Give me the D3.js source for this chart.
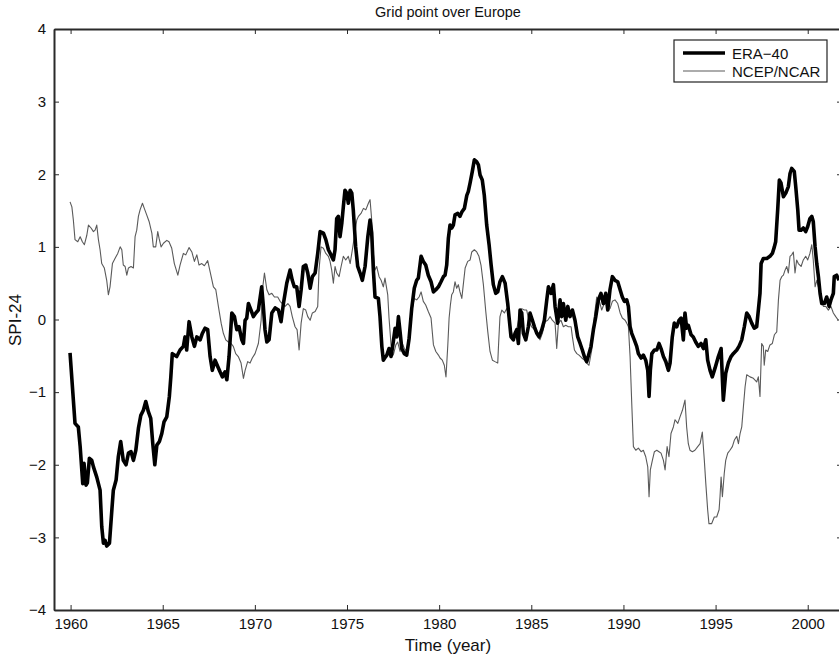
<!DOCTYPE html>
<html><head><meta charset="utf-8">
<script src="https://cdn.jsdelivr.net/npm/d3@7"></script>
<style>html,body{margin:0;padding:0;background:#fff;overflow:hidden}</style>
</head><body><svg id="c" width="839" height="656"></svg>
<script>
const xTicks = [1960,1965,1970,1975,1980,1985,1990,1995,2000];
const yTicks = [-4,-3,-2,-1,0,1,2,3,4];

const eraYears = [1959.97,1960.24,1960.42,1960.52,1960.66,1960.73,1960.84,1960.91,1961.02,1961.15,1961.24,1961.42,1961.60,1961.69,1961.78,1961.87,1961.96,1962.11,1962.24,1962.32,1962.47,1962.59,1962.72,1962.86,1963.01,1963.14,1963.28,1963.41,1963.54,1963.68,1963.81,1963.95,1964.08,1964.22,1964.35,1964.46,1964.57,1964.68,1964.82,1964.95,1965.07,1965.22,1965.36,1965.44,1965.52,1965.76,1965.94,1966.12,1966.21,1966.30,1966.43,1966.58,1966.72,1966.85,1967.03,1967.15,1967.30,1967.44,1967.57,1967.69,1967.84,1967.99,1968.11,1968.24,1968.38,1968.48,1968.60,1968.75,1968.89,1969.02,1969.14,1969.29,1969.38,1969.47,1969.56,1969.65,1969.79,1969.92,1970.05,1970.19,1970.37,1970.46,1970.55,1970.65,1970.77,1970.92,1971.10,1971.28,1971.42,1971.55,1971.73,1971.91,1972.03,1972.14,1972.27,1972.40,1972.51,1972.63,1972.76,1972.87,1973.00,1973.12,1973.27,1973.41,1973.54,1973.72,1973.85,1973.99,1974.13,1974.26,1974.35,1974.44,1974.53,1974.62,1974.72,1974.80,1974.89,1974.99,1975.07,1975.17,1975.26,1975.34,1975.47,1975.58,1975.71,1975.83,1975.98,1976.13,1976.25,1976.34,1976.43,1976.52,1976.70,1976.79,1976.89,1976.97,1977.10,1977.16,1977.28,1977.39,1977.51,1977.61,1977.70,1977.79,1977.88,1977.97,1978.11,1978.24,1978.37,1978.51,1978.65,1978.78,1978.87,1979.02,1979.14,1979.27,1979.41,1979.56,1979.69,1979.82,1979.96,1980.10,1980.23,1980.32,1980.41,1980.50,1980.59,1980.68,1980.77,1980.86,1981.01,1981.13,1981.23,1981.37,1981.50,1981.58,1981.68,1981.80,1981.91,1982.04,1982.13,1982.22,1982.34,1982.45,1982.58,1982.71,1982.82,1982.94,1983.07,1983.18,1983.30,1983.43,1983.58,1983.72,1983.79,1983.90,1984.03,1984.12,1984.21,1984.30,1984.39,1984.48,1984.57,1984.70,1984.84,1984.93,1985.06,1985.17,1985.30,1985.42,1985.57,1985.71,1985.84,1985.93,1986.07,1986.20,1986.29,1986.43,1986.56,1986.65,1986.74,1986.87,1986.98,1987.10,1987.23,1987.37,1987.52,1987.65,1987.77,1987.88,1988.01,1988.13,1988.24,1988.37,1988.50,1988.64,1988.78,1988.91,1989.04,1989.15,1989.27,1989.40,1989.54,1989.69,1989.82,1989.94,1990.05,1990.18,1990.27,1990.36,1990.45,1990.59,1990.72,1990.81,1990.96,1991.08,1991.21,1991.32,1991.39,1991.46,1991.54,1991.68,1991.81,1991.93,1992.04,1992.17,1992.30,1992.44,1992.53,1992.65,1992.76,1992.89,1993.02,1993.13,1993.25,1993.34,1993.43,1993.52,1993.67,1993.79,1993.92,1994.06,1994.21,1994.34,1994.47,1994.57,1994.70,1994.82,1994.97,1995.15,1995.30,1995.42,1995.55,1995.69,1995.84,1995.96,1996.15,1996.27,1996.42,1996.56,1996.69,1996.82,1996.96,1997.10,1997.23,1997.32,1997.41,1997.47,1997.59,1997.78,1997.95,1998.08,1998.19,1998.26,1998.37,1998.46,1998.55,1998.68,1998.81,1998.95,1999.04,1999.13,1999.27,1999.35,1999.46,1999.53,1999.64,1999.76,1999.89,2000.00,2000.12,2000.22,2000.30,2000.40,2000.49,2000.58,2000.67,2000.76,2000.90,2001.03,2001.16,2001.26,2001.39,2001.44,2001.57,2001.70];
const eraValues = [-0.46,-1.43,-1.48,-1.75,-2.26,-1.98,-2.28,-2.25,-1.91,-1.94,-2.03,-2.17,-2.35,-2.85,-3.08,-3.04,-3.12,-3.08,-2.62,-2.35,-2.21,-1.89,-1.68,-1.94,-2.00,-1.84,-1.82,-1.94,-1.80,-1.50,-1.32,-1.25,-1.13,-1.27,-1.36,-1.71,-2.00,-1.73,-1.68,-1.57,-1.41,-1.34,-1.06,-0.79,-0.47,-0.51,-0.42,-0.37,-0.24,-0.42,-0.03,-0.24,-0.37,-0.24,-0.28,-0.19,-0.12,-0.14,-0.51,-0.70,-0.56,-0.65,-0.72,-0.79,-0.72,-0.83,-0.51,0.09,0.04,-0.14,-0.10,-0.28,-0.33,-0.01,0.02,0.22,0.13,0.04,0.09,0.13,0.45,0.18,-0.14,-0.31,-0.28,0.09,0.16,0.13,-0.03,0.22,0.50,0.68,0.54,0.45,0.45,0.18,0.41,0.73,0.75,0.64,0.43,0.59,0.64,0.91,1.21,1.19,1.10,0.96,0.89,0.82,0.96,1.39,1.42,1.14,1.33,1.55,1.78,1.74,1.60,1.78,1.74,1.51,1.00,0.73,0.64,0.54,0.73,1.14,1.37,1.19,0.68,0.31,0.29,0.04,-0.37,-0.56,-0.51,-0.49,-0.40,-0.51,-0.31,-0.12,-0.24,0.04,-0.17,-0.40,-0.47,-0.49,-0.26,0.15,0.43,0.54,0.57,0.87,0.80,0.75,0.61,0.52,0.38,0.41,0.45,0.52,0.59,0.61,0.75,1.12,1.30,1.26,1.30,1.44,1.46,1.42,1.48,1.53,1.71,1.76,1.88,2.04,2.20,2.17,2.13,1.99,1.92,1.71,1.30,1.03,0.75,0.48,0.36,0.38,0.52,0.59,0.50,0.22,0.04,-0.24,-0.28,-0.19,-0.14,-0.33,0.13,0.09,-0.19,-0.28,-0.10,0.09,-0.01,-0.10,-0.19,-0.24,-0.14,-0.01,0.27,0.45,0.36,0.48,0.18,-0.05,0.27,0.04,0.22,-0.01,0.18,0.04,0.13,-0.01,-0.24,-0.33,-0.42,-0.51,-0.58,-0.47,-0.37,-0.14,0.04,0.27,0.36,0.22,0.36,0.13,0.41,0.59,0.54,0.52,0.41,0.31,0.25,0.27,0.18,-0.10,-0.19,-0.28,-0.37,-0.47,-0.53,-0.49,-0.56,-0.70,-1.06,-0.70,-0.47,-0.42,-0.42,-0.33,-0.40,-0.51,-0.58,-0.70,-0.60,-0.24,-0.05,-0.10,-0.01,0.02,-0.28,0.09,-0.12,-0.08,-0.21,-0.24,-0.31,-0.37,-0.33,-0.40,-0.28,-0.56,-0.70,-0.79,-0.67,-0.51,-0.40,-1.11,-0.74,-0.60,-0.51,-0.47,-0.42,-0.37,-0.28,-0.10,0.09,0.04,-0.05,-0.12,-0.10,0.13,0.36,0.77,0.84,0.84,0.87,0.91,1.00,1.07,1.51,1.92,1.88,1.69,1.74,1.83,2.01,2.08,2.04,1.83,1.51,1.23,1.23,1.26,1.21,1.28,1.39,1.42,1.35,1.00,0.77,0.59,0.36,0.22,0.22,0.31,0.18,0.27,0.36,0.59,0.61,0.54];

const ncepYears = [1959.97,1960.07,1960.15,1960.24,1960.39,1960.52,1960.64,1960.75,1960.88,1960.97,1961.11,1961.24,1961.33,1961.42,1961.51,1961.60,1961.69,1961.83,1961.96,1962.05,1962.14,1962.27,1962.41,1962.56,1962.69,1962.78,1962.86,1962.96,1963.05,1963.14,1963.28,1963.41,1963.50,1963.59,1963.68,1963.77,1963.90,1964.00,1964.13,1964.26,1964.41,1964.49,1964.62,1964.73,1964.80,1964.91,1965.04,1965.22,1965.34,1965.49,1965.63,1965.82,1965.94,1966.12,1966.25,1966.43,1966.58,1966.72,1966.85,1966.97,1967.12,1967.26,1967.44,1967.57,1967.75,1967.88,1968.02,1968.17,1968.29,1968.42,1968.56,1968.71,1968.83,1968.96,1969.10,1969.25,1969.38,1969.47,1969.61,1969.74,1969.86,1970.01,1970.19,1970.34,1970.41,1970.52,1970.65,1970.77,1970.92,1971.06,1971.24,1971.37,1971.49,1971.64,1971.79,1971.91,1972.03,1972.18,1972.29,1972.40,1972.51,1972.63,1972.76,1972.87,1973.00,1973.12,1973.27,1973.41,1973.48,1973.59,1973.72,1973.85,1973.99,1974.08,1974.17,1974.26,1974.35,1974.44,1974.57,1974.68,1974.80,1974.93,1975.07,1975.17,1975.29,1975.40,1975.53,1975.62,1975.76,1975.89,1976.02,1976.16,1976.25,1976.34,1976.43,1976.52,1976.61,1976.74,1976.85,1976.97,1977.06,1977.21,1977.28,1977.39,1977.51,1977.65,1977.75,1977.88,1977.97,1978.11,1978.24,1978.37,1978.51,1978.65,1978.78,1978.91,1979.02,1979.14,1979.27,1979.41,1979.56,1979.69,1979.82,1979.96,1980.05,1980.17,1980.28,1980.37,1980.47,1980.54,1980.61,1980.68,1980.77,1980.86,1980.95,1981.04,1981.13,1981.23,1981.31,1981.41,1981.55,1981.68,1981.77,1981.91,1982.04,1982.16,1982.27,1982.40,1982.53,1982.64,1982.76,1982.89,1983.03,1983.18,1983.21,1983.30,1983.40,1983.54,1983.67,1983.79,1983.94,1984.08,1984.21,1984.34,1984.48,1984.62,1984.75,1984.88,1985.02,1985.17,1985.30,1985.47,1985.60,1985.75,1985.89,1986.02,1986.14,1986.29,1986.38,1986.47,1986.61,1986.74,1986.87,1987.01,1987.16,1987.23,1987.34,1987.47,1987.59,1987.74,1987.88,1988.01,1988.13,1988.28,1988.42,1988.55,1988.68,1988.82,1988.96,1989.09,1989.15,1989.27,1989.40,1989.54,1989.69,1989.82,1989.94,1990.09,1990.18,1990.27,1990.36,1990.45,1990.54,1990.67,1990.81,1990.96,1991.08,1991.21,1991.32,1991.39,1991.46,1991.57,1991.68,1991.81,1991.93,1992.04,1992.17,1992.26,1992.37,1992.47,1992.58,1992.71,1992.80,1992.95,1993.07,1993.20,1993.34,1993.43,1993.52,1993.61,1993.74,1993.88,1994.03,1994.16,1994.28,1994.39,1994.47,1994.57,1994.64,1994.79,1994.93,1995.06,1995.19,1995.24,1995.30,1995.37,1995.47,1995.55,1995.66,1995.78,1995.91,1996.02,1996.15,1996.24,1996.33,1996.42,1996.51,1996.60,1996.69,1996.87,1997.05,1997.23,1997.32,1997.41,1997.50,1997.59,1997.64,1997.72,1997.83,1997.95,1998.08,1998.19,1998.32,1998.41,1998.50,1998.59,1998.68,1998.77,1998.86,1998.95,1999.04,1999.13,1999.22,1999.31,1999.40,1999.49,1999.64,1999.76,1999.89,2000.00,2000.12,2000.22,2000.30,2000.40,2000.49,2000.58,2000.72,2000.85,2000.98,2001.12,2001.26,2001.39,2001.52,2001.66];
const ncepValues = [1.62,1.55,1.37,1.10,1.07,1.14,1.07,1.03,1.16,1.30,1.26,1.21,1.23,1.30,1.10,0.96,0.77,0.71,0.54,0.34,0.45,0.77,0.84,0.91,1.00,0.96,0.75,0.73,0.61,0.71,0.73,0.71,1.14,1.23,1.42,1.51,1.60,1.53,1.44,1.35,1.19,1.00,1.00,1.21,1.12,1.00,1.05,1.09,1.07,0.98,0.77,0.61,0.75,0.91,0.89,0.99,0.93,0.80,0.89,0.75,0.77,0.74,0.81,0.66,0.45,0.41,0.18,-0.05,-0.19,-0.28,-0.31,-0.33,-0.37,-0.47,-0.51,-0.60,-0.81,-0.70,-0.58,-0.60,-0.53,-0.47,-0.33,-0.01,0.41,0.64,0.41,0.34,0.36,0.31,0.31,0.25,0.22,0.18,0.22,0.18,0.04,-0.10,-0.14,-0.42,-0.05,0.15,0.13,0.04,-0.01,0.09,0.11,0.18,0.68,1.00,0.98,0.91,0.87,0.80,0.68,0.50,0.73,0.64,0.59,0.73,0.87,0.82,0.87,0.77,0.96,1.14,1.37,1.42,1.46,1.53,1.51,1.60,1.65,1.37,0.91,0.68,0.73,0.59,0.54,0.45,0.57,0.34,0.02,-0.35,-0.49,-0.35,-0.31,-0.44,-0.31,-0.40,-0.44,-0.17,0.11,0.29,0.27,0.31,0.38,0.25,0.20,0.11,0.02,-0.35,-0.44,-0.49,-0.53,-0.56,-0.63,-0.79,-0.35,0.02,0.20,0.34,0.38,0.52,0.43,0.48,0.38,0.29,0.48,0.71,0.80,0.82,0.93,0.96,0.93,0.87,0.75,0.48,0.11,-0.17,-0.44,-0.56,-0.58,-0.60,-0.42,0.04,0.13,0.09,0.15,0.04,-0.19,-0.24,-0.14,0.04,0.15,0.13,0.13,-0.03,-0.10,-0.14,-0.19,-0.28,-0.19,-0.03,-0.01,0.04,-0.01,-0.05,-0.40,-0.05,-0.01,-0.10,-0.08,-0.10,-0.10,-0.24,-0.42,-0.47,-0.49,-0.53,-0.56,-0.60,-0.63,-0.42,0.04,0.31,0.27,0.13,0.22,0.27,0.13,0.15,0.25,0.27,0.22,0.09,0.02,-0.01,-0.05,-0.10,-0.51,-1.15,-1.75,-1.80,-1.77,-1.82,-1.80,-1.89,-2.03,-2.44,-2.07,-1.94,-1.82,-1.80,-1.82,-1.84,-1.94,-2.07,-1.75,-1.89,-1.57,-1.48,-1.38,-1.43,-1.34,-1.25,-1.11,-1.48,-1.71,-1.80,-1.82,-1.80,-1.75,-1.71,-1.55,-1.94,-2.26,-2.62,-2.81,-2.81,-2.72,-2.72,-2.62,-2.44,-2.17,-2.44,-2.12,-1.94,-1.84,-1.80,-1.75,-1.66,-1.61,-1.71,-1.57,-1.48,-1.20,-0.93,-0.76,-0.79,-0.81,-0.86,-0.79,-1.06,-0.33,-0.37,-0.63,-0.42,-0.44,-0.35,-0.33,-0.21,-0.17,0.27,0.54,0.59,0.61,0.68,0.73,0.64,0.87,0.89,0.93,0.64,0.82,0.77,0.73,0.82,0.87,0.82,0.91,1.03,0.82,0.45,0.54,0.45,0.27,0.18,0.18,0.13,0.18,0.09,0.04,-0.01];

const seriesNames = ["ERA\u221240","NCEP/NCAR"];

const svg = d3.select("#c");
const L = 54, R = 842, T = 29, B = 610;
const x = d3.scaleLinear().domain([1959.1, 2001.86]).range([L, R]);
const y = d3.scaleLinear().domain([-4, 4]).range([B, T]);
const font = "'Liberation Sans', Arial, Helvetica, sans-serif";
const axisColor = "#2a2a2a";

svg.append("defs").append("clipPath").attr("id","clip")
  .append("rect").attr("x",L).attr("y",T).attr("width",R-L).attr("height",B-T);

const fmt = d => d < 0 ? "\u2212" + Math.abs(d) : String(d);

const gBottom = svg.append("g").attr("transform",`translate(0,${B})`)
  .call(d3.axisBottom(x).tickValues(xTicks).tickFormat(d3.format("d")).tickSizeInner(-5).tickSizeOuter(0).tickPadding(8));
const gTop = svg.append("g").attr("transform",`translate(0,${T})`)
  .call(d3.axisTop(x).tickValues(xTicks).tickFormat("").tickSizeInner(-5).tickSizeOuter(0));
const gLeft = svg.append("g").attr("transform",`translate(${L},0)`)
  .call(d3.axisLeft(y).tickValues(yTicks).tickFormat(fmt).tickSizeInner(-5).tickSizeOuter(0).tickPadding(8));
const gRight = svg.append("g").attr("transform",`translate(${R},0)`)
  .call(d3.axisRight(y).tickValues(yTicks).tickFormat("").tickSizeInner(-5).tickSizeOuter(0));
[gBottom, gTop, gLeft, gRight].forEach(g => {
  g.select(".domain").attr("stroke", axisColor).attr("stroke-width", 2);
  g.selectAll(".tick line").attr("stroke", axisColor).attr("stroke-width", 1);
  g.selectAll("text").attr("font-family", font).attr("font-size", 15).attr("fill", "#111");
});

const eraData = eraYears.map((t,i) => [t, eraValues[i]]);
const ncepData = ncepYears.map((t,i) => [t, ncepValues[i]]);
const line = d3.line().x(d => x(d[0])).y(d => y(d[1]));

const plot = svg.append("g").attr("clip-path","url(#clip)");
plot.append("path").datum(ncepData).attr("d", line)
  .attr("fill","none").attr("stroke","#5a5a5a").attr("stroke-width",1.1).attr("stroke-linejoin","round");
plot.append("path").datum(eraData).attr("d", line)
  .attr("fill","none").attr("stroke","#000").attr("stroke-width",3.6).attr("stroke-linejoin","round");

svg.append("text").attr("x", 448).attr("y", 17).attr("text-anchor","middle")
  .attr("font-family", font).attr("font-size", 14.5).attr("fill","#111").text("Grid point over Europe");
svg.append("text").attr("x", 448).attr("y", 651).attr("text-anchor","middle")
  .attr("font-family", font).attr("font-size", 17).attr("fill","#111").text("Time (year)");
svg.append("text").attr("transform","translate(21,320) rotate(-90)").attr("text-anchor","middle")
  .attr("font-family", font).attr("font-size", 17).attr("fill","#111").text("SPI-24");

const lg = svg.append("g");
lg.append("rect").attr("x",674).attr("y",40).attr("width",153).attr("height",42)
  .attr("fill","#fff").attr("stroke","#222").attr("stroke-width",1.2);
const legendStyles = [{c:"#000", w:3.6}, {c:"#5a5a5a", w:1.1}];
seriesNames.forEach((name, i) => {
  const yy = 53 + i*18;
  lg.append("line").attr("x1",683).attr("x2",725).attr("y1",yy).attr("y2",yy)
    .attr("stroke", legendStyles[i].c).attr("stroke-width", legendStyles[i].w);
  lg.append("text").attr("x",732).attr("y",yy+5.5).attr("font-family",font).attr("font-size",15)
    .attr("fill","#111").text(name);
});
</script></body></html>
